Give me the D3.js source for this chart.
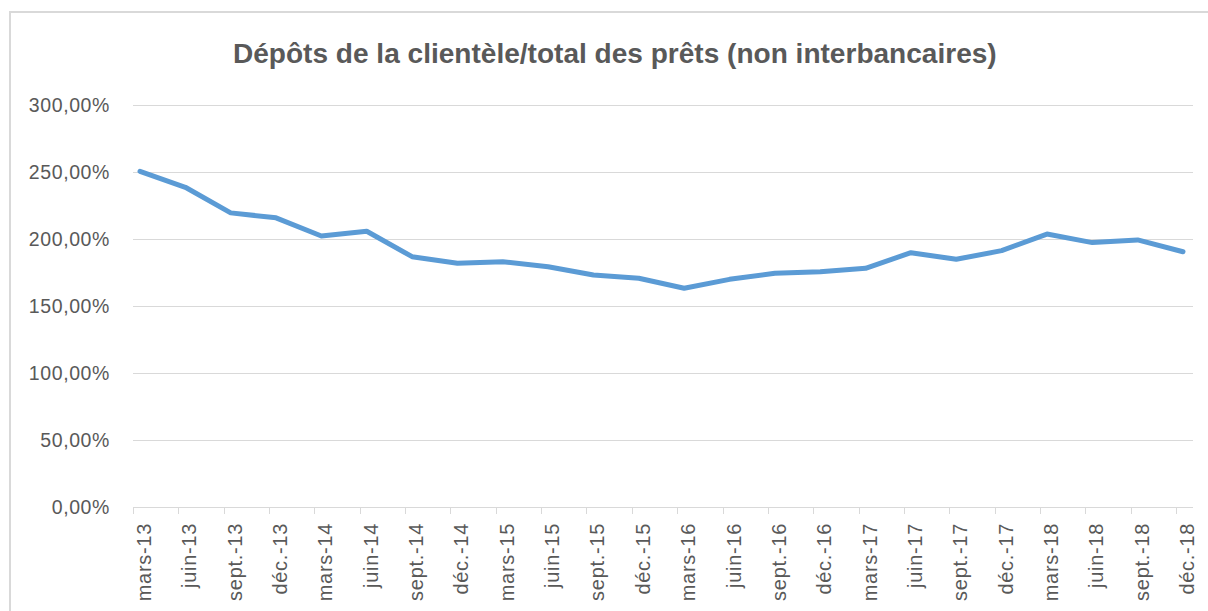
<!DOCTYPE html>
<html>
<head>
<meta charset="utf-8">
<script src="https://cdn.jsdelivr.net/npm/d3@7/dist/d3.min.js"></script>
<style>
  body { margin: 0; background: #fff; }
  text { font-family: "Liberation Sans", Arial, sans-serif; fill: #595959; }
</style>
</head>
<body>
<div id="chart"></div>
<script>
// quarterly labels
var categories = ["mars-13","juin-13","sept.-13","déc.-13",
                  "mars-14","juin-14","sept.-14","déc.-14",
                  "mars-15","juin-15","sept.-15","déc.-15",
                  "mars-16","juin-16","sept.-16","déc.-16",
                  "mars-17","juin-17","sept.-17","déc.-17",
                  "mars-18","juin-18","sept.-18","déc.-18"];

// ratio in %
var ratio = [250.5, 238.6, 219.5, 215.8,
             202.2, 205.8, 186.8, 181.9,
             183.0, 179.3, 173.1, 170.7,
             163.2, 169.9, 174.4, 175.6,
             178.1, 189.8, 184.9, 191.3,
             203.7, 197.3, 199.3, 190.5];

var yTicks = [0, 50, 100, 150, 200, 250, 300];
var title = "Dépôts de la clientèle/total des prêts (non interbancaires)";

var W = 1208, H = 611;
var grid = { left: 133, right: 1193, top: 105, bottom: 507 };

var svg = d3.select("#chart").append("svg")
  .attr("width", W)
  .attr("height", H);

svg.append("rect").attr("width", W).attr("height", H).attr("fill", "#fff");

// chart frame (only top + left visible in the crop)
svg.append("path")
  .attr("d", "M10," + H + "V12H" + W)
  .attr("fill", "none")
  .attr("stroke", "#d9d9d9")
  .attr("stroke-width", 2);

var x = d3.scalePoint()
  .domain(categories)
  .range([140, 1183]);

var y = d3.scaleLinear()
  .domain([0, 300])
  .range([grid.bottom, grid.top]);

var fmt = function(d){ return d3.format(".2f")(d).replace(".", ",") + "%"; };

// gridlines
svg.append("g").selectAll("line")
  .data(yTicks)
  .enter().append("line")
    .attr("x1", grid.left)
    .attr("x2", grid.right)
    .attr("y1", function(d){ return Math.round(y(d)) + 0.5; })
    .attr("y2", function(d){ return Math.round(y(d)) + 0.5; })
    .attr("stroke", "#d9d9d9")
    .attr("stroke-width", 1);

// y labels
svg.append("g").selectAll("text")
  .data(yTicks)
  .enter().append("text")
    .attr("x", 110)
    .attr("y", function(d){ return y(d); })
    .attr("dy", "0.35em")
    .attr("text-anchor", "end")
    .style("font-size", "19.5px")
    .style("letter-spacing", "0.6px")
    .text(fmt);

// x tick marks
svg.append("g").selectAll("line")
  .data(categories)
  .enter().append("line")
    .attr("x1", function(d){ return Math.round(x(d) - 7) + 0.5; })
    .attr("x2", function(d){ return Math.round(x(d) - 7) + 0.5; })
    .attr("y1", grid.bottom)
    .attr("y2", grid.bottom + 7)
    .attr("stroke", "#d9d9d9");

// x labels
svg.append("g").selectAll("text")
  .data(categories)
  .enter().append("text")
    .attr("transform", function(d){ return "translate(" + (x(d) + 4) + ",523) rotate(-90)"; })
    .attr("dy", "0.35em")
    .attr("text-anchor", "end")
    .style("font-size", "20px")
    .style("letter-spacing", "0.7px")
    .text(function(d){ return d; });

// series line
var line = d3.line()
  .x(function(d, i){ return x(categories[i]); })
  .y(function(d){ return y(d); });

svg.append("path")
  .datum(ratio)
  .attr("d", line)
  .attr("fill", "none")
  .attr("stroke", "#5b9bd5")
  .attr("stroke-width", 5)
  .attr("stroke-linejoin", "round")
  .attr("stroke-linecap", "round");

// title, sized to the reference width
var t = svg.append("text")
  .attr("x", 233)
  .attr("y", 63)
  .style("font-size", "24px")
  .style("font-weight", "bold")
  .text(title);
var tw = t.node().getComputedTextLength();
t.style("font-size", (24 * 764 / tw).toFixed(2) + "px");
</script>
</body>
</html>
